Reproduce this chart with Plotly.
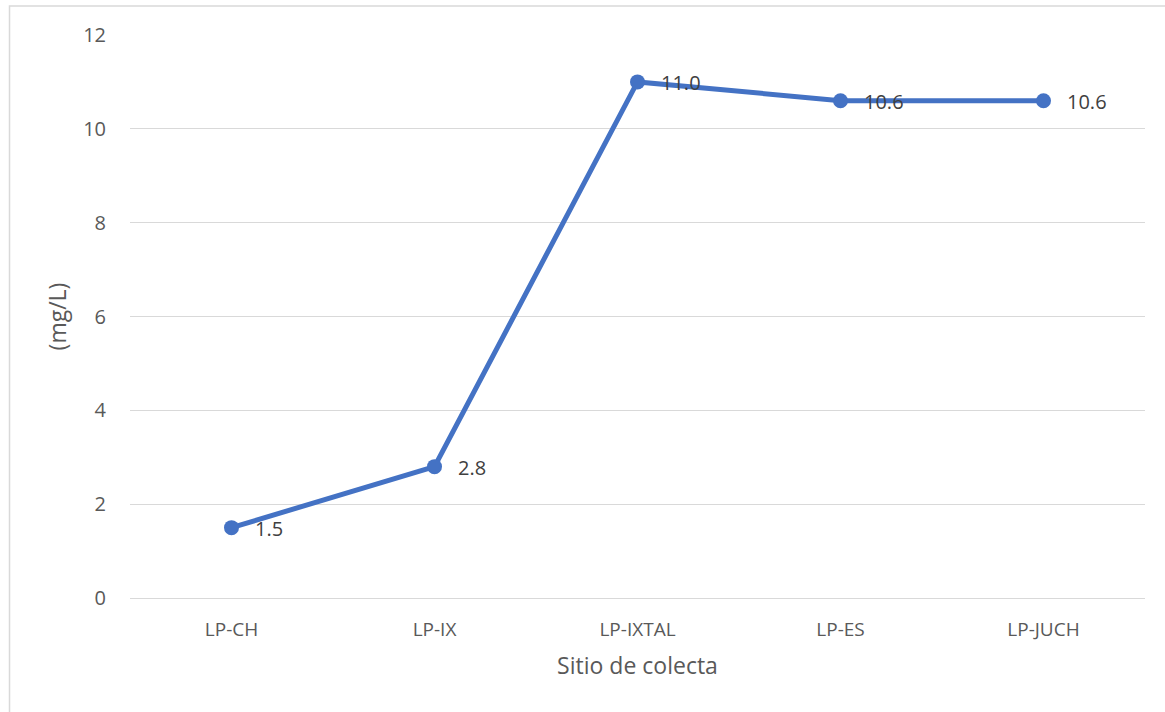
import plotly.graph_objects as go

# Collection sites and measured concentration (mg/L)
sites = ["LP-CH", "LP-IX", "LP-IXTAL", "LP-ES", "LP-JUCH"]
values = [1.5, 2.8, 11.0, 10.6, 10.6]
y_ticks = [0, 2, 4, 6, 8, 10, 12]

LINE_COLOR = "#4472C4"
FONT = "Open Sans"
GRID = "#d9d9d9"

fig = go.Figure()
fig.add_trace(go.Scatter(
    x=sites, y=values,
    mode="lines+markers",
    line=dict(color=LINE_COLOR, width=5),
    marker=dict(color=LINE_COLOR, size=15),
    hoverinfo="x+y",
    showlegend=False,
))

# Value labels to the right of each point
for s, v in zip(sites, values):
    fig.add_annotation(
        x=s, y=v, text=f"{v:.1f}", showarrow=False,
        xanchor="left", yanchor="middle", xshift=21, yshift=-1,
        font=dict(family=FONT, size=20, color="#404040"),
    )

# Outer chart frame
fig.add_shape(
    type="rect", xref="paper", yref="paper",
    x0=-0.1187, x1=1.03, y0=-0.22, y1=1.0515,
    line=dict(color=GRID, width=1.5), fillcolor="rgba(0,0,0,0)",
    layer="below",
)

fig.update_layout(
    width=1165, height=712,
    margin=dict(l=130, r=20, t=35, b=114),
    plot_bgcolor="white", paper_bgcolor="white",
    font=dict(family=FONT, color="#595959", size=20),
    xaxis=dict(
        type="category",
        range=[-0.5, len(sites) - 0.5],
        showgrid=False, zeroline=False, showline=False,
        ticks="outside", ticklen=14, tickcolor="rgba(0,0,0,0)",
        tickfont=dict(family=FONT, size=19, color="#595959"),
        title=dict(text="Sitio de colecta", standoff=17,
                   font=dict(family=FONT, size=23, color="#595959")),
    ),
    yaxis=dict(
        range=[0, 12], tickvals=y_ticks,
        showgrid=True, gridcolor=GRID, gridwidth=1.3,
        zeroline=True, zerolinecolor=GRID, zerolinewidth=1.3,
        showline=False,
        ticks="outside", ticklen=19, tickcolor="rgba(0,0,0,0)",
        tickfont=dict(family=FONT, size=20, color="#595959"),
        title=dict(text="(mg/L)", standoff=10,
                   font=dict(family=FONT, size=23, color="#595959")),
    ),
)

fig.write_html("out.html")
